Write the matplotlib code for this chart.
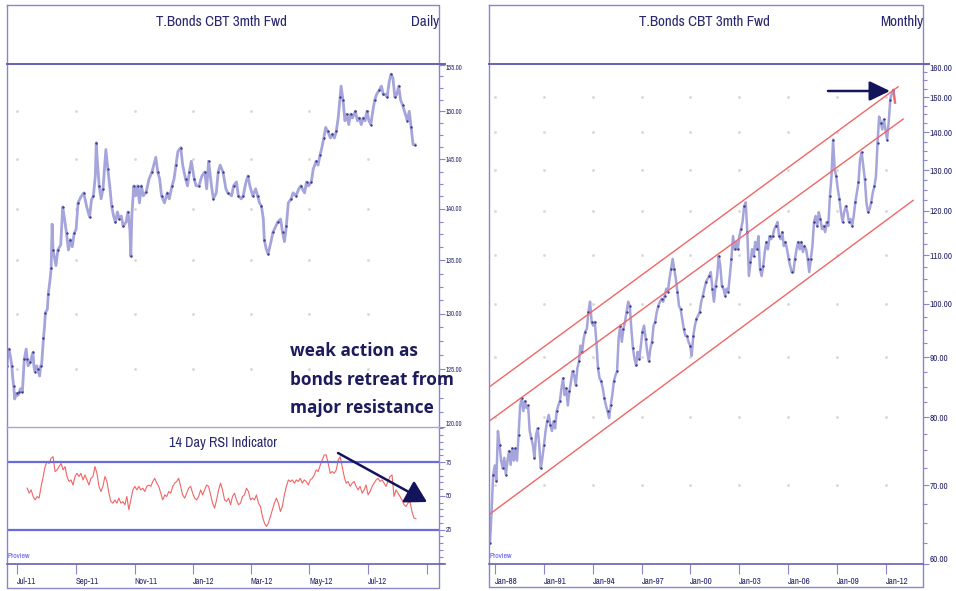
import numpy as np
import pandas as pd
import matplotlib
matplotlib.use("Agg")
from matplotlib import pyplot as plt
from matplotlib import dates as mdates
from matplotlib import font_manager
from matplotlib.lines import Line2D
from matplotlib.patches import FancyArrowPatch
from matplotlib.ticker import FixedLocator, FixedFormatter, NullFormatter

# ---- daily chart: closes, day offsets counted from 1 Jul 2011 ----
daily_days = [
    -10, -9, -8, -6, -5, -4, -3, -2, 0, 1,
    3, 4, 6, 7, 8, 10, 11, 12, 14, 15,
    17, 18, 19, 21, 22, 24, 25, 26, 28, 29,
    30, 32, 33, 35, 36, 37, 38, 41, 43, 46,
    48, 50, 52, 54, 56, 58, 60, 62, 64, 67,
    70, 73, 76, 78, 80, 82, 83, 84, 86, 88,
    90, 93, 95, 97, 99, 101, 103, 105, 107, 109,
    111, 114, 116, 118, 119, 120, 122, 124, 126, 128,
    130, 132, 135, 138, 141, 145, 147, 149, 151, 154,
    157, 159, 162, 164, 166, 168, 171, 173, 176, 178,
    180, 182, 185, 187, 190, 193, 196, 198, 200, 203,
    205, 208, 210, 212, 215, 218, 220, 224, 226, 229,
    231, 234, 236, 239, 241, 243, 246, 249, 251, 253,
    255, 257, 258, 260, 262, 265, 267, 270, 272, 275,
    277, 279, 281, 283, 286, 288, 291, 294, 296, 300,
    302, 304, 307, 309, 312, 314, 316, 318, 320, 322,
    324, 327, 329, 331, 333, 335, 337, 338, 340, 342,
    344, 346, 348, 350, 353, 355, 357, 359, 361, 363,
    365, 367, 369, 371, 373, 375, 378, 380, 382, 384,
    386, 388, 390, 392, 394, 396, 398, 400, 402, 405,
    407, 409, 411, 413, 415,
]
daily_close = [
    125.3, 126.5, 126.8, 125.9, 125.3, 124.2, 123.5, 122.4, 122.9, 122.7,
    123.0, 123.3, 123.0, 124.4, 125.9, 126.8, 125.9, 125.3, 125.6, 125.9,
    126.5, 125.3, 124.8, 125.3, 125.0, 124.4, 125.3, 125.3, 127.8, 128.7,
    130.1, 130.4, 131.8, 133.3, 134.3, 138.5, 136.0, 134.5, 136.0, 136.5,
    140.2, 139.0, 137.6, 136.0, 137.0, 136.3, 137.6, 138.0, 140.6, 141.2,
    141.6, 140.2, 139.2, 140.9, 141.3, 143.3, 146.7, 145.0, 142.3, 141.0,
    142.0, 146.0, 144.0, 142.3, 140.3, 139.3, 138.7, 139.7, 139.0, 139.3,
    138.3, 138.7, 139.7, 138.0, 135.4, 139.3, 142.3, 141.3, 142.3, 140.6,
    142.3, 141.3, 141.7, 143.0, 143.7, 145.2, 143.7, 143.0, 141.3, 140.6,
    141.6, 141.0, 142.3, 143.0, 144.4, 145.8, 146.2, 144.4, 143.0, 142.3,
    143.7, 144.8, 143.0, 142.3, 142.3, 143.3, 143.7, 142.0, 144.8, 142.3,
    141.0, 141.6, 143.7, 144.4, 143.7, 142.0, 141.6, 141.3, 142.3, 142.7,
    141.3, 141.0, 141.3, 142.7, 143.3, 142.3, 141.3, 142.0, 141.3, 140.6,
    140.3, 139.0, 137.0, 136.1, 135.6, 136.8, 137.7, 138.3, 138.7, 139.0,
    137.7, 136.8, 138.3, 140.6, 141.0, 141.6, 141.3, 142.0, 142.3, 141.6,
    142.7, 142.3, 142.7, 144.0, 144.8, 144.4, 145.4, 146.2, 147.2, 148.3,
    147.9, 147.2, 147.6, 147.2, 147.9, 149.3, 151.5, 152.7, 151.2, 149.0,
    149.7, 148.6, 149.7, 149.3, 150.0, 149.0, 149.3, 148.6, 149.3, 149.0,
    150.0, 149.0, 148.6, 150.0, 151.2, 151.8, 152.3, 152.7, 151.8, 151.8,
    151.5, 153.1, 154.0, 153.6, 151.5, 151.8, 152.7, 151.2, 150.7, 149.7,
    149.0, 150.0, 148.3, 146.5, 146.5,
]
daily_yticks = [120, 125, 130, 135, 140, 145, 150, 155]
daily_xticks = ["2011-07-01", "2011-09-01", "2011-11-01", "2012-01-01",
                "2012-03-01", "2012-05-01", "2012-07-01", "2012-09-01"]
daily_xlabels = ["Jul-11", "Sep-11", "Nov-11", "Jan-12", "Mar-12", "May-12", "Jul-12", ""]

# ---- 14 day RSI, evenly spaced samples ----
rsi_start, rsi_end = "2011-07-12", "2012-08-20"
rsi_values = [
    55.7, 52.0, 54.4, 49.5, 47.0, 49.5, 48.3, 57.0, 64.0, 71.7,
    75.4, 74.0, 77.8, 79.0, 68.0, 69.2, 71.7, 74.0, 69.2, 71.7,
    64.3, 60.6, 61.8, 58.0, 64.3, 66.7, 64.3, 66.7, 61.8, 65.5,
    61.8, 58.0, 63.0, 64.3, 71.7, 66.7, 57.0, 53.2, 57.0, 64.3,
    60.6, 52.0, 45.8, 44.6, 47.0, 44.6, 48.3, 44.6, 45.8, 43.4,
    49.5, 39.7, 47.0, 54.4, 57.0, 54.4, 57.0, 54.4, 55.7, 53.2,
    57.0, 58.0, 57.0, 60.6, 63.0, 59.4, 57.0, 52.0, 47.0, 50.7,
    49.5, 53.2, 52.0, 57.0, 59.4, 60.6, 63.0, 57.0, 50.7, 48.3,
    52.0, 55.7, 57.0, 52.0, 48.3, 47.0, 49.5, 54.4, 50.7, 54.4,
    58.0, 57.0, 50.7, 44.6, 40.9, 47.0, 54.4, 59.4, 54.4, 47.0,
    45.8, 48.3, 43.4, 49.5, 52.0, 47.0, 43.4, 44.6, 49.5, 50.7,
    55.7, 53.2, 47.0, 48.3, 47.0, 50.7, 44.6, 42.1, 34.7, 29.8,
    27.3, 29.8, 34.7, 39.7, 44.6, 48.3, 44.6, 38.4, 42.1, 50.7,
    57.0, 61.8, 60.6, 61.8, 59.4, 61.8, 60.6, 63.0, 59.4, 61.8,
    60.6, 58.0, 61.8, 63.0, 65.5, 69.2, 68.0, 72.9, 76.6, 80.3,
    80.3, 74.0, 66.7, 68.0, 66.7, 69.2, 76.6, 79.0, 71.7, 64.3,
    59.4, 60.6, 57.0, 59.4, 60.6, 57.0, 54.4, 57.0, 52.0, 54.4,
    58.0, 50.7, 53.2, 57.0, 59.4, 61.8, 63.0, 60.6, 61.8, 59.4,
    57.0, 60.6, 64.3, 65.5, 49.5, 54.4, 52.0, 49.5, 47.0, 43.4,
    42.1, 44.6, 45.8, 38.4, 33.5, 33.0,
]

# ---- long term chart, evenly spaced samples ----
monthly_start, monthly_end = "1987-09-09", "2012-07-31"
monthly_close = [
    62.5, 66.5, 71.4, 72.8, 70.6, 77.9, 75.8, 73.5, 72.4, 73.9,
    71.5, 73.5, 74.9, 72.9, 75.3, 73.5, 75.3, 73.5, 77.3, 81.9,
    83.1, 81.0, 82.6, 81.5, 81.9, 77.9, 76.8, 75.8, 73.9, 77.3,
    78.3, 75.8, 72.4, 73.9, 75.8, 77.9, 79.4, 80.4, 78.8, 77.9,
    79.4, 78.3, 81.0, 81.9, 82.6, 84.7, 86.4, 83.6, 84.7, 81.9,
    84.2, 85.9, 87.6, 86.9, 85.2, 88.1, 89.3, 92.1, 91.0, 93.4,
    94.7, 95.2, 98.4, 100.4, 96.5, 95.8, 96.5, 92.8, 88.1, 86.4,
    85.9, 84.7, 83.1, 81.9, 81.0,
    79.9, 81.9, 83.6, 85.9, 86.9, 87.6, 93.4, 95.8, 92.8, 95.2,
    96.5, 98.4, 100.4, 99.6, 95.2, 91.6, 89.8, 88.6, 91.0, 89.8,
    92.1, 94.7, 95.8, 93.4, 91.0, 89.3, 91.6, 92.8, 95.8, 96.5,
    98.4, 99.6, 100.4, 101.0, 100.4, 101.6, 103.0, 102.4, 105.0, 107.1,
    109.2, 107.1, 105.0, 102.4, 99.6, 99.0, 97.1, 95.2, 93.9, 93.9,
    92.8, 92.1, 90.3, 93.9, 95.8, 97.1, 97.7, 98.4, 100.4, 101.6,
    103.0, 104.4, 105.0, 105.6, 106.4,
    103.0, 100.4, 103.6, 105.6, 109.8, 107.7, 103.6, 103.0, 101.6, 103.0,
    102.4, 105.6, 109.2, 114.2, 111.3, 112.9, 111.3, 114.2, 115.8, 117.4,
    121.1, 122.0, 115.1, 105.6, 108.5, 111.3, 109.8, 112.9, 111.3, 114.2,
    107.1, 105.6, 107.7, 110.7, 112.9, 111.3, 114.2, 113.5, 114.2, 115.8,
    116.5, 117.4, 114.2, 113.5, 115.1, 112.0, 112.9, 111.3, 109.2, 107.7,
    106.4, 106.4, 109.2, 111.3, 112.9, 111.3, 112.9,
    110.7, 112.0, 111.3, 109.2, 106.4, 109.2, 112.0, 117.4, 118.8, 116.5,
    119.7, 118.1, 115.8, 116.5, 115.1, 117.4, 116.5, 123.5, 128.4, 138.0,
    130.2, 128.4, 125.2, 122.8, 119.7, 117.4, 119.7, 121.1, 119.7, 117.4,
    118.1, 116.5, 118.8, 122.0, 124.4, 126.9, 132.8, 134.6, 131.0, 127.7,
    122.0, 119.7, 120.4, 122.0, 124.4, 125.9, 128.4, 137.2, 144.4, 142.7,
    140.8, 143.6, 140.8, 138.0, 142.7, 149.3, 151.3, 152.2, 148.4,
]
monthly_yticks = [60, 70, 80, 90, 100, 110, 120, 130, 140, 150, 160]
monthly_xyears = list(range(1988, 2013, 3))

# trend channel: start date, start value, end date, end value
channel_start = ["1987-08-18", "1987-08-18", "1987-08-18"]
channel_start_val = [84.9, 79.4, 66.1]
channel_end = ["2012-10-08", "2013-01-30", "2013-09-10"]
channel_end_val = [153.1, 143.7, 122.5]

note_text = "weak action as\nbonds retreat from\nmajor resistance"

# ---------------------------------------------------------------
NARROW = "Archivo Narrow"
try:
    font_manager.findfont(NARROW, fallback_to_default=False)
except ValueError:
    NARROW = "DejaVu Sans"
plt.rcParams["font.family"] = [NARROW, "DejaVu Sans"]

FRAME = "#8a86cc"
HEAD = "#6560b2"
NAVY = "#28286e"
BAR = "#a5a4db"
DOT = "#3c3c90"
RED = "#f06666"
BLUE = "#6a6adf"
ARROW = "#14145a"

W, H = 956, 591
fig = plt.figure(figsize=(W / 100, H / 100), dpi=100)


def rect(x0, y0, x1, y1):
    return [x0 / W, 1 - y1 / H, (x1 - x0) / W, (y1 - y0) / H]


def fline(xs, ys, color=FRAME, lw=1.0):
    fig.add_artist(Line2D([x / W for x in xs], [1 - y / H for y in ys],
                          color=color, lw=lw))


def ftext(x, y, s, **kw):
    return fig.text(x / W, 1 - y / H, s, **kw)


def style_axes(ax, ysize):
    for s in ax.spines.values():
        s.set_visible(False)
    ax.set_facecolor("none")
    ax.yaxis.tick_right()
    ax.tick_params(axis="y", which="major", direction="out", length=4, width=0.8,
                   color=FRAME, pad=1, labelcolor=NAVY, labelsize=ysize)
    ax.tick_params(axis="y", which="minor", direction="out", length=3, width=0.8,
                   color=FRAME)
    ax.tick_params(axis="x", which="both", direction="out", length=7, width=0.8,
                   color=FRAME, labelcolor=NAVY, pad=2)


def grid_dots(ax, xs, ys):
    gx, gy = np.meshgrid(mdates.date2num(pd.to_datetime(xs)), ys)
    ax.plot(gx.ravel(), gy.ravel(), ls="none", marker="s", ms=0.9,
            color="#d6d6d6", zorder=0)


def clamp_edge_labels(ax):
    labels = ax.get_yticklabels()
    labels[0].set_va("bottom")
    labels[-1].set_va("top")


# ---------------- daily price ----------------
d_lim = (pd.Timestamp("2011-06-21"), pd.Timestamp("2012-09-13"))
ax_d = fig.add_axes(rect(7, 64, 439, 427))
style_axes(ax_d, 4.8)
d_dates = pd.Timestamp("2011-07-01") + pd.to_timedelta(daily_days, unit="D")
ax_d.plot(d_dates, daily_close, color=BAR, lw=2.0)
ax_d.plot(d_dates[::2], daily_close[::2], ls="none", marker="s", ms=0.7, color=DOT)
ax_d.set_yscale("log")
ax_d.set_ylim(120, 155.1)
ax_d.set_xlim(*d_lim)
ax_d.yaxis.set_major_locator(FixedLocator(daily_yticks))
ax_d.yaxis.set_major_formatter(FixedFormatter([f"{t:.2f}" for t in daily_yticks]))
ax_d.yaxis.set_minor_locator(FixedLocator(np.arange(120, 155.1, 1.25)))
ax_d.yaxis.set_minor_formatter(NullFormatter())
grid_dots(ax_d, daily_xticks[:-1], daily_yticks[1:-1])
ax_d.set_xticks([])
clamp_edge_labels(ax_d)

# ---------------- RSI ----------------
ax_r = fig.add_axes(rect(7, 427, 439, 564))
style_axes(ax_r, 4.8)
r_dates = pd.date_range(rsi_start, rsi_end, periods=len(rsi_values))
ax_r.plot(r_dates, rsi_values, color=RED, lw=0.8)
ax_r.axhline(75, color=BLUE, lw=1.6)
ax_r.axhline(25, color=BLUE, lw=1.6)
ax_r.set_ylim(-0.5, 101)
ax_r.set_xlim(*d_lim)
ax_r.yaxis.set_major_locator(FixedLocator([25, 50, 75]))
ax_r.yaxis.set_major_formatter(FixedFormatter(["25", "50", "75"]))
ax_r.yaxis.set_minor_locator(FixedLocator(np.arange(0, 101, 5)))
ax_r.yaxis.set_minor_formatter(NullFormatter())
ax_r.set_xticks(pd.to_datetime(daily_xticks))
ax_r.set_xticklabels(daily_xlabels, ha="left", fontsize=6.2)

# ---------------- long term ----------------
ax_m = fig.add_axes(rect(489, 64, 923, 564))
style_axes(ax_m, 6.6)
m_dates = pd.date_range(monthly_start, monthly_end, periods=len(monthly_close))
ax_m.plot(m_dates, monthly_close, color=BAR, lw=1.8)
ax_m.plot(m_dates[::2], monthly_close[::2], ls="none", marker="s", ms=0.7, color=DOT)
ax_m.plot(m_dates[-2:], monthly_close[-2:], color=RED, lw=1.2)
for s0, v0, s1, v1 in zip(channel_start, channel_start_val, channel_end, channel_end_val):
    ax_m.plot(pd.to_datetime([s0, s1]), [v0, v1], color=RED, lw=1.0)
ax_m.set_yscale("log")
ax_m.set_ylim(60, 160.1)
ax_m.set_xlim(pd.Timestamp("1987-08-18"), pd.Timestamp("2014-04-20"))
ax_m.yaxis.set_major_locator(FixedLocator(monthly_yticks))
ax_m.yaxis.set_major_formatter(FixedFormatter([f"{t:.2f}" for t in monthly_yticks]))
ax_m.yaxis.set_minor_locator(FixedLocator(np.arange(60, 160.1, 2.5)))
ax_m.yaxis.set_minor_formatter(NullFormatter())
m_xt = pd.to_datetime([f"{y}-01-01" for y in monthly_xyears])
ax_m.set_xticks(m_xt)
ax_m.set_xticklabels([t.strftime("%b-%y") for t in m_xt], ha="left", fontsize=6.5)
grid_dots(ax_m, m_xt, monthly_yticks[1:-1])
clamp_edge_labels(ax_m)

# ---------------- frames ----------------
for x0, x1, yb in [(7, 439, 588), (489, 923, 587)]:
    fline([x0, x1, x1, x0, x0], [5, 5, yb, yb, 5], FRAME, 1.0)
fline([7, 445], [64, 64], HEAD, 1.4)
fline([489, 929], [64, 64], HEAD, 1.4)
fline([7, 439], [427, 427], "#aaa6d4", 1.0)
fline([7, 445], [564, 564], HEAD, 1.2)
fline([489, 923], [564, 564], HEAD, 1.2)

# ---------------- texts ----------------
title_kw = dict(fontsize=10.8, color=NAVY, va="center")
ftext(221, 22, "T.Bonds CBT 3mth Fwd", ha="center", **title_kw)
ftext(439, 22, "Daily", ha="right", **title_kw)
ftext(704, 22, "T.Bonds CBT 3mth Fwd", ha="center", **title_kw)
ftext(923, 22, "Monthly", ha="right", **title_kw)
ftext(223, 443, "14 Day RSI Indicator", ha="center", fontsize=10.2, color=NAVY, va="center")
ftext(7, 556, "Proview", ha="left", va="center", fontsize=5.5, color="#5a5af0")
ftext(489, 556, "Proview", ha="left", va="center", fontsize=5.5, color="#5a5af0")
ftext(290, 342, note_text, ha="left", va="top", fontsize=12.4, color="#1c1c5c",
      family=["Open Sans", "DejaVu Sans"], fontweight="bold", linespacing=1.76)

# ---------------- arrows ----------------
for (xa, ya), (xb, yb), hl, hw in [((338, 453), (427, 502), 1.3, 0.75),
                                   ((828, 91), (890, 91), 1.25, 0.6)]:
    fig.add_artist(FancyArrowPatch(
        (xa / W, 1 - ya / H), (xb / W, 1 - yb / H), transform=fig.transFigure,
        arrowstyle=f"-|>,head_length={hl},head_width={hw}", mutation_scale=10,
        color=ARROW, lw=1.8, shrinkA=0, shrinkB=0))

fig.savefig("out.png", dpi=100, facecolor="white")
